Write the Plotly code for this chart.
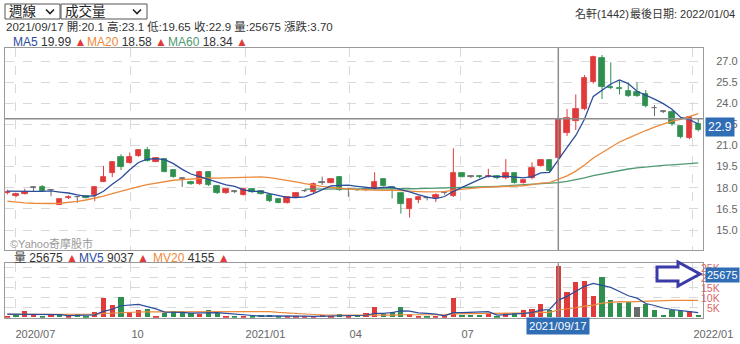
import plotly.graph_objects as go

W, H = 740, 344

# ---------------- data (weekly, index 0 = 2020/07/03 ... 79 = 2022/01/04) ----------------
opens = [17.65, 17.38, 17.57, 18.00, 18.05, 17.84, 16.81, 17.24, 17.32, 17.40,
         17.45, 18.43, 19.07, 20.19, 19.79, 20.24, 20.67, 19.86, 20.02, 19.24,
         18.64, 18.43, 18.24, 19.14, 18.12, 17.60, 17.71, 17.52, 17.90, 17.76,
         17.52, 17.17, 16.93, 17.31, 17.76, 17.67, 18.36, 18.36, 18.79, 17.88,
         17.83, 17.81, 17.90, 18.62, 18.05, 17.60, 16.52, 17.12, 17.24, 17.24,
         17.64, 17.40, 19.02, 18.78, 18.80, 18.78, 18.85, 18.66, 19.06, 18.35,
         18.66, 19.56, 19.96, 20.10, 21.90, 22.76, 23.56, 25.48, 27.19, 25.17,
         25.06, 24.89, 24.82, 24.63, 23.63, 23.40, 23.40, 22.38, 21.50, 22.50]
highs = [17.86, 17.62, 17.93, 18.12, 18.19, 17.90, 17.20, 17.45, 17.40, 17.45,
         18.12, 19.55, 19.90, 20.38, 20.50, 20.74, 20.90, 20.14, 20.08, 19.28,
         18.71, 18.50, 19.20, 19.18, 18.16, 17.92, 17.80, 17.95, 17.98, 17.80,
         17.55, 17.20, 17.36, 17.68, 17.88, 18.38, 18.79, 18.66, 18.83, 17.95,
         17.90, 18.05, 19.10, 18.66, 18.10, 17.65, 17.20, 17.45, 17.40, 17.60,
         17.74, 20.80, 19.10, 18.90, 18.86, 19.35, 18.90, 20.03, 19.10, 18.58,
         19.80, 20.03, 20.00, 23.10, 23.59, 24.63, 26.00, 27.38, 27.43, 26.90,
         25.65, 25.48, 25.48, 24.94, 23.87, 23.50, 23.50, 22.45, 23.10, 22.88]
lows = [17.52, 17.33, 17.52, 17.76, 17.71, 17.40, 16.78, 17.20, 16.93, 17.24,
        17.05, 18.40, 18.76, 19.26, 19.74, 20.20, 19.86, 19.82, 19.10, 18.72,
        18.05, 18.20, 18.20, 18.12, 17.56, 17.56, 17.62, 17.45, 17.62, 17.52,
        16.98, 16.90, 16.88, 17.26, 17.70, 17.62, 18.20, 18.32, 17.78, 17.36,
        17.78, 17.76, 17.86, 18.10, 17.24, 16.17, 15.88, 16.90, 17.10, 16.98,
        17.50, 17.36, 18.74, 18.70, 18.68, 18.72, 18.60, 18.60, 18.30, 18.30,
        18.60, 19.50, 19.10, 19.65, 21.67, 22.10, 23.50, 25.40, 24.30, 25.00,
        24.63, 24.45, 24.45, 23.70, 23.09, 23.30, 22.40, 21.50, 21.45, 22.00]
closes = [17.70, 17.57, 17.71, 18.00, 17.76, 17.84, 17.17, 17.36, 17.32, 17.26,
          18.05, 18.76, 19.86, 19.50, 20.19, 20.67, 19.90, 20.10, 19.14, 18.76,
          18.64, 18.24, 19.14, 18.17, 17.60, 17.88, 17.71, 17.88, 17.67, 17.57,
          17.07, 16.95, 17.31, 17.64, 17.76, 18.24, 18.36, 18.62, 17.83, 17.88,
          17.83, 17.90, 18.38, 18.14, 18.00, 16.88, 17.17, 17.36, 17.24, 17.48,
          17.64, 19.02, 18.79, 18.78, 18.75, 18.87, 18.66, 19.06, 18.35, 18.54,
          19.37, 19.96, 19.20, 22.90, 22.92, 23.59, 25.77, 27.26, 25.17, 25.06,
          25.00, 24.51, 24.51, 23.82, 23.63, 23.40, 22.52, 21.57, 23.04, 22.10]
volumes = [500, 1250, 3400, 1000, 750, 1250, 1250, 900, 1600, 400,
           2900, 9900, 6250, 10400, 2900, 3750, 4250, 900, 2100, 3250,
           2900, 2100, 1600, 3750, 2400, 750, 420, 750, 920, 1080,
           1250, 750, 580, 600, 700, 800, 1000, 600, 1580, 500,
           1000, 2400, 5100, 1600, 2900, 5100, 1600, 900, 420, 750,
           900, 9600, 1250, 1100, 1100, 2100, 750, 2100, 2100, 3600,
           4250, 6750, 3750, 25675, 12900, 17900, 18250, 10900, 20100, 8750,
           7400, 7600, 5100, 6600, 3750, 1250, 3750, 3250, 3250, 1250]

# moving-average values read where the window reaches before the first shown week
ma5_head = [17.76, 17.74, 17.72, 17.74]
ma20_head = [17.05, 16.98, 16.93, 16.90, 16.88, 16.88, 16.90, 16.95, 17.03, 17.13,
             17.25, 17.40, 17.58, 17.76, 17.93, 18.08, 18.22, 18.34, 18.45]
ma60_start = 34
ma60_head = [17.90, 17.90, 17.89, 17.89, 17.88, 17.88, 17.88, 17.88, 17.89, 17.90,
             17.91, 17.92, 17.93, 17.94, 17.95, 17.96, 17.97, 17.98, 18.00, 18.02,
             18.04, 18.07, 18.10, 18.14, 18.18]
mv5_head = [1800, 1700, 1700, 1600]
mv20_head = [1650, 1650, 1650, 1650, 1650, 1650, 1650, 1650, 1650, 1700,
             1750, 2100, 2350, 2700, 2750, 2850, 2900, 2900, 2920]

tick_pos = [0.88, 14.14, 27.18, 39.07, 51.87, 78.4]
tick_text = ["2020/07", "10", "2021/01", "04", "07", "2022/01"]
price_ticks = [15.0, 16.5, 18.0, 19.5, 21.0, 22.5, 24.0, 25.5, 27.0]
vol_ticks = [5000, 10000, 15000, 20000, 25000]
vol_tick_text = ["5K", "10K", "15K", "20K", "25K"]

sel = 63
sel_date = "2021/09/17"
stock_name = "名軒(1442)"
last_date = "2022/01/04"
# header figures as printed on the chart
ma_hdr = [("MA5", 19.99), ("MA20", 18.58), ("MA60", 18.34)]
mv_hdr = [("MV5", 9037), ("MV20", 4155)]

# ---------------- helpers ----------------
N = len(closes)
idx = list(range(N))


def mavg(vals, n, head, start=0):
    out = []
    for i in range(len(vals)):
        if i < start:
            out.append(None)
        elif i < n - 1:
            out.append(head[i - start])
        else:
            out.append(sum(vals[i - n + 1:i + 1]) / n)
    return out


ma5 = mavg(closes, 5, ma5_head)
ma20 = mavg(closes, 20, ma20_head)
ma60 = mavg(closes, 60, ma60_head, ma60_start)
mv5 = mavg(volumes, 5, mv5_head)
mv20 = mavg(volumes, 20, mv20_head)

RED = "#e03a3a"
GREEN = "#2f8f4f"
GRAY = "#6b6b6b"
C_MA5 = "#2b4d9c"
C_MA20 = "#ec8a3c"
C_MA60 = "#4f9a72"
FONT = "Liberation Sans, Arial, Noto Sans CJK TC, sans-serif"


def px(x):
    return x / W


def py(y):
    return 1 - y / H


cand_col = []
for o, c in zip(opens, closes):
    cand_col.append(RED if c > o else (GREEN if c < o else GRAY))

vol_col = []
for i in idx:
    if i == 0:
        vol_col.append(cand_col[0])
    else:
        d = round(closes[i] - closes[i - 1], 2)
        vol_col.append(RED if d > 0 else (GREEN if d < 0 else GRAY))

fig = go.Figure()

for col in (RED, GREEN, GRAY):
    xs, ys = [], []
    for i in idx:
        if cand_col[i] == col:
            xs += [i, i, None]
            ys += [lows[i], highs[i], None]
    fig.add_trace(go.Scatter(x=xs, y=ys, mode="lines", line=dict(color=col, width=1),
                             hoverinfo="skip", showlegend=False, xaxis="x", yaxis="y"))

body_base = [min(o, c) for o, c in zip(opens, closes)]
body_h = [max(abs(c - o), 0.03) for o, c in zip(opens, closes)]
fig.add_trace(go.Bar(x=idx, y=body_h, base=body_base, width=0.62,
                     marker=dict(color=cand_col, line=dict(color=cand_col, width=0.8)),
                     showlegend=False, xaxis="x", yaxis="y"))

for arr, col in ((ma60, C_MA60), (ma20, C_MA20), (ma5, C_MA5)):
    fig.add_trace(go.Scatter(x=idx, y=arr, mode="lines", line=dict(color=col, width=1.3),
                             showlegend=False, xaxis="x", yaxis="y", connectgaps=False))

fig.add_trace(go.Bar(x=idx, y=volumes, width=0.6, marker=dict(color=vol_col, line=dict(width=0)),
                     showlegend=False, xaxis="x2", yaxis="y2"))
for arr, col in ((mv20, C_MA20), (mv5, C_MA5)):
    fig.add_trace(go.Scatter(x=idx, y=arr, mode="lines", line=dict(color=col, width=1.2),
                             showlegend=False, xaxis="x2", yaxis="y2"))

X_L, X_R = 5, 703
P_T, P_B = 48, 250
V_T, V_B = 263.3, 317.7
slope = 8.746
x0px = 7.3
xr = [(X_L - x0px) / slope, (X_R - x0px) / slope]
ppu = 14.08
yr = [15 - (P_B - 230) / ppu, 27 + (61 - P_T) / ppu]
vpp = 500.0
vr = [0, (V_B - V_T) * vpp]

grid = dict(showgrid=True, gridcolor="#d9d9d9", griddash="dash", gridwidth=1, zeroline=False,
            showline=True, mirror=True, linecolor="#9a9a9a", linewidth=1, automargin=False)

fig.update_layout(
    width=W, height=H, margin=dict(l=0, r=0, t=0, b=0, autoexpand=False),
    paper_bgcolor="white", plot_bgcolor="white", barmode="overlay", bargap=0,
    showlegend=False, font=dict(family=FONT, color="#333"),
    xaxis=dict(domain=[px(X_L), px(X_R)], range=xr, anchor="y", tickvals=tick_pos,
               showticklabels=False, ticks="", rangeslider=dict(visible=False), **grid),
    yaxis=dict(domain=[py(P_B), py(P_T)], range=yr, anchor="x", side="right",
               tickvals=price_ticks, ticktext=["%.1f" % v for v in price_ticks],
               tickfont=dict(size=11, color="#666"), ticks="", ticklabelstandoff=10, **grid),
    xaxis2=dict(domain=[px(X_L), px(X_R)], range=xr, anchor="y2", matches="x", tickvals=tick_pos,
                ticktext=tick_text, ticklabelposition="outside right", ticks="",
                tickfont=dict(size=11, color="#666"), ticklabelstandoff=6, **grid),
    yaxis2=dict(domain=[py(V_B), py(V_T)], range=vr, anchor="x2", side="right",
                tickvals=vol_ticks, showticklabels=False, ticks="", **grid),
)

shapes = []
annotations = []

# crosshair, drawn in each panel
CROSS = dict(color="#8c8c8c", width=1.5)
shapes.append(dict(type="line", xref="x", yref="y domain", x0=sel, x1=sel, y0=0, y1=1, line=CROSS))
shapes.append(dict(type="line", xref="x2", yref="y2 domain", x0=sel, x1=sel, y0=0, y1=1, line=CROSS))
shapes.append(dict(type="line", xref="x domain", yref="y", x0=0, x1=1,
                   y0=closes[sel], y1=closes[sel], line=CROSS))

for (a, b, label) in ((5, 60, "週線"), (61, 147, "成交量")):
    shapes.append(dict(type="rect", xref="paper", yref="paper", x0=px(a), x1=px(b), y0=py(19), y1=py(4),
                       line=dict(color="#555", width=1), fillcolor="white"))
    cx = b - 10
    shapes.append(dict(type="path", xref="paper", yref="paper",
                       path="M %f %f L %f %f L %f %f" % (px(cx - 4), py(9.5), px(cx), py(13.5), px(cx + 4), py(9.5)),
                       line=dict(color="#222", width=1.6)))
    annotations.append(dict(x=px(a + 2), y=py(11.5), xref="paper", yref="paper", xanchor="left", yanchor="middle",
                            text=label, showarrow=False, font=dict(size=13.5, color="#222")))

chg = closes[sel] - closes[sel - 1]
info = "%s 開:%s 高:%s 低:%s 收:%s 量:%d 漲跌:%.2f" % (
    sel_date, ("%g" % opens[sel]), ("%g" % highs[sel]), ("%g" % lows[sel]), ("%g" % closes[sel]),
    volumes[sel], chg)
annotations.append(dict(x=px(4), y=py(26.5), xref="paper", yref="paper", xanchor="left", yanchor="middle",
                        text=info, showarrow=False, font=dict(size=11.5, color="#333")))
annotations.append(dict(x=px(573), y=py(13.5), xref="paper", yref="paper", xanchor="left", yanchor="middle",
                        text=stock_name, showarrow=False, font=dict(size=11, color="#333")))
annotations.append(dict(x=px(737), y=py(13.5), xref="paper", yref="paper", xanchor="right", yanchor="middle",
                        text="最後日期: %s" % last_date, showarrow=False, font=dict(size=11, color="#333")))

TRI = "<span style='color:#e03a3a'>▲</span>"
for xpos, (name, val), col in zip((11, 85, 166), ma_hdr, (C_MA5, C_MA20, C_MA60)):
    annotations.append(dict(x=px(xpos), y=py(41.5), xref="paper", yref="paper", xanchor="left", yanchor="middle",
                            text="<span style='color:%s'>%s</span> %.2f %s" % (col, name, val, TRI),
                            showarrow=False, font=dict(size=12, color="#333")))

vol_hdr = [("量", "#444", volumes[sel])] + [(n, c, v) for (n, v), c in zip(mv_hdr, (C_MA5, C_MA20))]
for xpos, (name, col, val) in zip((12, 77, 151), vol_hdr):
    annotations.append(dict(x=px(xpos), y=py(257.5), xref="paper", yref="paper", xanchor="left", yanchor="middle",
                            text="<span style='color:%s'>%s</span> %d %s" % (col, name, val, TRI),
                            showarrow=False, font=dict(size=12, color="#333")))

annotations.append(dict(x=px(8), y=py(243), xref="paper", yref="paper", xanchor="left", yanchor="middle",
                        text="©Yahoo奇摩股市", showarrow=False, font=dict(size=11, color="#9a9a9a")))

for v, t in zip(vol_ticks, vol_tick_text):
    annotations.append(dict(x=px(722), y=v, xref="paper", yref="y2", xanchor="right", yanchor="middle",
                            text=t, showarrow=False, font=dict(size=10.5, color="#d66a6a")))

ay = 274
shapes.append(dict(type="path", xref="paper", yref="paper",
                   path="M %f %f L %f %f L %f %f L %f %f L %f %f L %f %f L %f %f Z" % (
                       px(657), py(ay - 7), px(678), py(ay - 7), px(678), py(ay - 12), px(700), py(ay),
                       px(678), py(ay + 12), px(678), py(ay + 7), px(657), py(ay + 7)),
                   line=dict(color="#3a3aa8", width=3), fillcolor="white"))

BLUE_BOX = "#2f6db5"
annotations.append(dict(x=px(705), y=py(127), xref="paper", yref="paper", xanchor="left", yanchor="middle",
                        text="%g" % closes[sel], showarrow=False, bgcolor=BLUE_BOX, borderpad=2,
                        font=dict(size=12, color="white")))
annotations.append(dict(x=px(705), y=py(275), xref="paper", yref="paper", xanchor="left", yanchor="middle",
                        text="%d" % volumes[sel], showarrow=False, bgcolor=BLUE_BOX, borderpad=1,
                        font=dict(size=11, color="white")))
annotations.append(dict(x=sel, y=py(326), xref="x2", yref="paper", xanchor="center", yanchor="middle",
                        text=sel_date, showarrow=False, bgcolor=BLUE_BOX, borderpad=2,
                        font=dict(size=11.5, color="white")))

fig.update_layout(shapes=shapes, annotations=annotations)
fig.write_html("out.html")
